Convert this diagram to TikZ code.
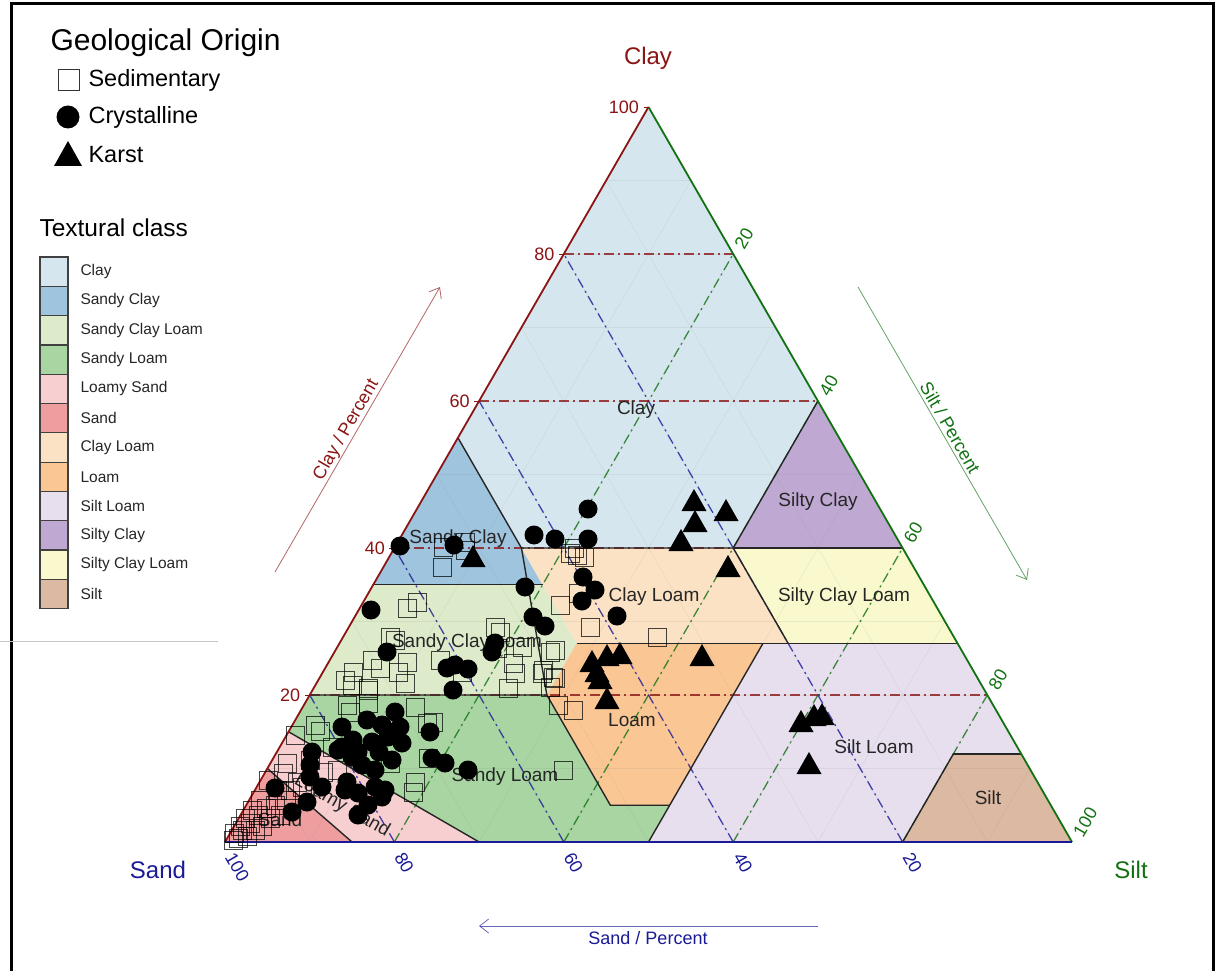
\documentclass[tikz,border=0pt]{standalone}
\usepackage{fontspec}
\setmainfont{Liberation Sans}
\usetikzlibrary{arrows.meta}
\definecolor{cClay}{HTML}{D6E6EF}
\definecolor{cSandyClay}{HTML}{9FC4DE}
\definecolor{cSCL}{HTML}{DDEBCB}
\definecolor{cSandyLoam}{HTML}{A8D5A2}
\definecolor{cLoamySand}{HTML}{F8CFD0}
\definecolor{cSand}{HTML}{EE9E9E}
\definecolor{cClayLoam}{HTML}{FBE2C4}
\definecolor{cLoam}{HTML}{FAC794}
\definecolor{cSiltLoam}{HTML}{E7DFEE}
\definecolor{cSiltyClay}{HTML}{BFA9D3}
\definecolor{cSiCL}{HTML}{F9F9CD}
\definecolor{cSilt}{HTML}{DCB9A2}
\definecolor{axClay}{HTML}{8B1414}
\definecolor{axSilt}{HTML}{127212}
\definecolor{axSand}{HTML}{1A1A96}
% ternary point: clay, silt  -> pixel coordinates
\newcommand\tp[2]{({225+8.47*((#2)+(#1)/2)},{842-7.35*(#1)})}
\tikzset{
  region/.style={draw=black!85, line width=1.4pt},
  minorgrid/.style={draw=gray, opacity=0.12, line width=0.6pt},
  dashclay/.style={draw=axClay, opacity=0.8, line width=1.3pt, dash pattern=on 10pt off 4pt on 2pt off 4pt},
  dashsand/.style={draw=axSand, opacity=0.8, line width=1.3pt, dash pattern=on 10pt off 4pt on 2pt off 4pt},
  dashsilt/.style={draw=axSilt, opacity=0.8, line width=1.3pt, dash pattern=on 10pt off 4pt on 2pt off 4pt},
  classlbl/.style={font=\fontsize{19}{21}\selectfont, text=black!85},
  ticklbl/.style={font=\fontsize{18}{20}\selectfont},
  axtitle/.style={font=\fontsize{24}{26}\selectfont},
  arrlbl/.style={font=\fontsize{18}{20}\selectfont, inner sep=1.5pt},
  legtxt/.style={font=\fontsize{15.5}{17}\selectfont, anchor=west, text=black!85},
  legsym/.style={font=\fontsize{23.5}{26}\selectfont, anchor=west},
  swatch/.style={draw=black!75, line width=1.2pt},
  sqpt/.style={draw=black, draw opacity=0.72, line width=1pt},
  axarrow/.style={line width=0.8pt, opacity=0.65, -{Straight Barb[length=9pt,width=14pt]}}
}
\begin{document}
\begin{tikzpicture}[x=1pt,y=-1pt]
\useasboundingbox (0,0) rectangle (1219,971);
\fill[white] (0,0) rectangle (1219,971);
% frame
\draw[line width=3pt] (11,3.5) rectangle (1213,990);
\draw[gray!45, line width=0.8pt] (0,641) -- (218,641);

% ---------- textural class regions ----------
\fill[cClay] \tp{100}{0} -- \tp{60}{40} -- \tp{40}{40} -- \tp{40}{15} -- \tp{55}{0} -- cycle;
\fill[cSandyClay] \tp{55}{0} -- \tp{40}{15} -- \tp{35}{20} -- \tp{35}{0} -- cycle;
\fill[cSiltyClay] \tp{60}{40} -- \tp{40}{60} -- \tp{40}{40} -- cycle;
\fill[cSiCL] \tp{40}{40} -- \tp{40}{60} -- \tp{27}{73} -- \tp{27}{53} -- cycle;
\fill[cClayLoam] \tp{40}{15} -- \tp{40}{40} -- \tp{27}{53} -- \tp{27}{28} -- cycle;
\fill[cSCL] \tp{35}{0} -- \tp{35}{20} -- \tp{27}{28} -- \tp{20}{28} -- \tp{20}{0} -- cycle;
\fill[cLoam] \tp{27}{28} -- \tp{27}{50} -- \tp{5}{50} -- \tp{5}{43} -- \tp{20}{28} -- cycle;
\fill[cSiltLoam] \tp{27}{50} -- \tp{27}{73} -- \tp{12}{88} -- \tp{12}{80} -- \tp{0}{80} -- \tp{0}{50} -- cycle;
\fill[cSilt] \tp{12}{80} -- \tp{12}{88} -- \tp{0}{100} -- \tp{0}{80} -- cycle;
\fill[cSandyLoam] \tp{20}{0} -- \tp{20}{28} -- \tp{5}{43} -- \tp{5}{50} -- \tp{0}{50} -- \tp{0}{30} -- \tp{15}{0} -- cycle;
\fill[cLoamySand] \tp{15}{0} -- \tp{0}{30} -- \tp{0}{15} -- \tp{10}{0} -- cycle;
\fill[cSand] \tp{10}{0} -- \tp{0}{15} -- \tp{0}{0} -- cycle;

% minor grid
\foreach \v in {10,20,...,90}{
  \draw[minorgrid] \tp{\v}{0} -- \tp{\v}{100-\v};
  \draw[minorgrid] \tp{0}{\v} -- \tp{100-\v}{\v};
  \draw[minorgrid] \tp{0}{100-\v} -- \tp{100-\v}{0};
}
% major dash-dot grid
\foreach \v in {20,40,60,80}{
  \draw[dashclay] \tp{\v}{0} -- \tp{\v}{100-\v};
  \draw[dashsilt] \tp{0}{\v} -- \tp{100-\v}{\v};
  \draw[dashsand] \tp{0}{100-\v} -- \tp{100-\v}{0};
}

% region borders
\draw[region] \tp{55}{0} -- \tp{40}{15} -- \tp{40}{40} -- \tp{60}{40};
\draw[region] \tp{40}{40} -- \tp{40}{60};
\draw[region] \tp{40}{15} -- \tp{20}{28};
\draw[region] \tp{35}{0} -- \tp{35}{20};
\draw[region] \tp{40}{40} -- \tp{27}{53};
\draw[region] \tp{27}{28} -- \tp{27}{73};
\draw[region] \tp{20}{0} -- \tp{20}{28} -- \tp{5}{43} -- \tp{5}{50};
\draw[region] \tp{27}{50} -- \tp{0}{50};
\draw[region] \tp{12}{80} -- \tp{12}{88};
\draw[region] \tp{12}{80} -- \tp{0}{80};
\draw[region] \tp{15}{0} -- \tp{0}{30};
\draw[region] \tp{10}{0} -- \tp{0}{15};

% triangle edges
\draw[axClay, line width=1.8pt] \tp{0}{0} -- \tp{100}{0};
\draw[axSilt, line width=1.8pt] \tp{100}{0} -- \tp{0}{100};
\draw[axSand, line width=1.8pt] \tp{0}{100} -- \tp{0}{0};

% ticks and tick labels
\foreach \v in {20,40,60,80,100}{
  \draw[axClay, line width=0.8pt] ({225+8.47*\v/2},{842-7.35*\v}) -- ++(-5,0);
  \node[ticklbl, text=axClay, anchor=east] (cl\v) at ({225+8.47*\v/2-6},{842-7.35*\v}) {\v};
  \node[ticklbl, text=axSilt, anchor=west, rotate=60] (si\v) at ({225+8.47*(50+\v/2)+4},{842-7.35*(100-\v)-4}) {\v};
  \node[ticklbl, text=axSand, anchor=west, rotate=-60] (sa\v) at ({225+8.47*(100-\v)+3},{851}) {\v};
}

% class labels
\node[classlbl] (lClay) at (636,410) {Clay};
\node[classlbl] (lSC) at (458,539) {Sandy Clay};
\node[classlbl] (lSCL) at (467,643) {Sandy Clay Loam};
\node[classlbl] (lCL) at (654,597) {Clay Loam};
\node[classlbl] (lSiC) at (818,502) {Silty Clay};
\node[classlbl] (lSiCL) at (844,597) {Silty Clay Loam};
\node[classlbl] (lLoam) at (632,720) {Loam};
\node[classlbl] (lSiL) at (874,747) {Silt Loam};
\node[classlbl] (lSi) at (988,798) {Silt};
\node[classlbl] (lSL) at (505,777) {Sandy Loam};
\node[classlbl, rotate=-30] (lLS) at (342,806) {Loamy Sand};
\node[classlbl] (lS) at (280,820) {Sand};

% axis titles
\node[axtitle, text=axClay] (tClay) at (648,58) {Clay};
\node[axtitle, text=axSand] (tSand) at (158,870) {Sand};
\node[axtitle, text=axSilt] (tSilt) at (1131,870) {Silt};

% axis arrows
\coordinate (ca1) at (275,572); \coordinate (ca2) at (440,287);
\draw[axarrow, axClay] (ca1) -- (ca2);
\node[arrlbl, text=axClay, rotate=60, anchor=south] (lca) at (355,435) {Clay / Percent};
\coordinate (sa1) at (858,287); \coordinate (sa2) at (1027,580);
\draw[axarrow, axSilt] (sa1) -- (sa2);
\node[arrlbl, text=axSilt, rotate=-60, anchor=south] (lsa) at (943,432) {Silt / Percent};
\coordinate (da1) at (818,926); \coordinate (da2) at (479,926);
\draw[axarrow, axSand] (da1) -- (da2);
\node[arrlbl, text=axSand, anchor=north] (lda) at (648,930) {Sand / Percent};

% ---------- data points ----------
% Sedimentary (open squares)
\foreach \x/\y in {442/567, 443/547, 465/542, 465/550, 417/602, 407/608, 560/605, 578/593, 590/627, 657/637,
  570/553, 577/555, 574/548, 584/557, 495/627, 500/632, 390/637, 395/640, 353/672, 345/680, 368/688, 407/662,
  405/683, 462/672, 497/648, 513/663, 522/647, 515/673, 550/652, 542/673, 553/677, 550/687, 508/688, 555/650,
  543/670, 555/678, 558/705, 573/710, 563/770, 352/685, 368/690, 315/725, 295/735, 347/705, 350/712, 368/703,
  415/707, 427/723, 433/722, 332/747, 323/772, 337/770, 287/763, 283/773, 297/782, 268/780, 277/790, 302/787,
  415/782, 413/792, 390/763, 428/758, 380/668, 372/660, 398/672, 320/731, 310/760, 440/660,
  238/838, 242/830, 247/836, 250/823, 255/830, 258/815, 262/826, 266/808, 270/818, 275/805, 280/815, 286/800,
  245/818, 252/810, 233/840, 290/790, 260/800, 240/826, 234/833}
  \draw[sqpt] (\x-9,\y-9) rectangle (\x+9,\y+9);
% Crystalline (filled circles)
\foreach \x/\y in {588/509, 534/535, 555/539, 588/539, 400/546, 454/545, 525/587, 583/577, 595/590, 582/601,
  617/616, 533/617, 545/626, 371/610, 387/652, 495/643, 492/652, 447/668, 455/665, 468/669, 453/690,
  395/712, 342/727, 367/720, 382/725, 400/727, 430/732, 342/747, 353/740, 372/742, 402/743, 388/737, 338/750,
  352/757, 392/760, 312/752, 310/765, 432/758, 445/763, 468/770, 375/770, 362/765, 347/782, 310/777, 322/787,
  345/790, 358/793, 375/787, 382/797, 275/788, 307/802, 292/812, 358/815, 368/805, 385/790, 379/752, 358/752}
  \fill[black] (\x,\y) circle[radius=9.5];
% Karst (filled triangles)
\foreach \x/\y in {473/558, 592/663, 607/657, 620/655, 597/673, 600/680, 607/700, 702/657, 694/502, 726/512,
  695/523, 681/542, 728/568, 801/723, 814/717, 822/716, 809/765}
  \fill[black] (\x-12.5,\y+9) -- (\x+12.5,\y+9) -- (\x,\y-13) -- cycle;

% ---------- legend: geological origin ----------
\node[font=\fontsize{30}{33}\selectfont, anchor=west] (gTitle) at (47,43) {Geological Origin};
\draw[black!80, line width=1pt] (58.5,69.5) rectangle (79.5,90.5);
\node[legsym] (gSed) at (85,80) {Sedimentary};
\fill[black] (68,117) circle[radius=11.5];
\node[legsym] (gCry) at (85,117) {Crystalline};
\fill[black] (54,166) -- (82,166) -- (68,141) -- cycle;
\node[legsym] (gKar) at (85,155) {Karst};

% ---------- legend: textural class ----------
\node[font=\fontsize{24.5}{27}\selectfont, anchor=west] (tcTitle) at (36,228) {Textural class};
\foreach \c/\t [count=\i from 0] in {cClay/Clay, cSandyClay/Sandy Clay, cSCL/Sandy Clay Loam, cSandyLoam/Sandy Loam,
  cLoamySand/Loamy Sand, cSand/Sand, cClayLoam/Clay Loam, cLoam/Loam, cSiltLoam/Silt Loam, cSiltyClay/Silty Clay,
  cSiCL/Silty Clay Loam, cSilt/Silt}{
  \filldraw[swatch, fill=\c] (40,{257+29.3*\i}) rectangle (68,{257+29.3*(\i+1)});
  \node[legtxt] (leg\i) at (77,{257+29.3*(\i+0.5)}) {\t};
}
\end{tikzpicture}
\end{document}
